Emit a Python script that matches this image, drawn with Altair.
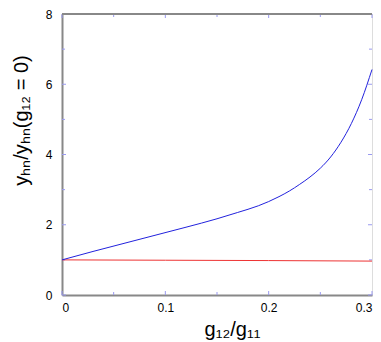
import altair as alt
import pandas as pd

# data
blue_x = [0, 0.03, 0.06, 0.09, 0.12, 0.15, 0.17, 0.18, 0.19, 0.2, 0.21, 0.22, 0.23, 0.24, 0.25, 0.26, 0.27, 0.28, 0.29, 0.3]
blue_y = [1.0, 1.24, 1.47, 1.70, 1.93, 2.17, 2.35, 2.44, 2.54, 2.66, 2.80, 2.96, 3.15, 3.36, 3.61, 3.93, 4.35, 4.88, 5.56, 6.42]
red_x = [0, 0.1, 0.2, 0.3]
red_y = [1.0, 0.99, 0.98, 0.965]

x_major = [0, 0.1, 0.2, 0.3]
x_minor = [0.05, 0.15, 0.25]
y_major = [0, 2, 4, 6, 8]
y_minor = [1, 3, 5, 7]

W, H = 310, 281
FONT = "Liberation Sans"
TICK = "#9a9af0"

blue = pd.DataFrame({"x": blue_x, "y": blue_y})
red = pd.DataFrame({"x": red_x, "y": red_y})

xs = alt.Scale(domain=[0, 0.3], nice=False)
ys = alt.Scale(domain=[0, 8], nice=False)

xax = alt.Axis(values=x_major, format="~g", ticks=False, labelPadding=7, labelFontSize=12,
               labelFont=FONT, labelColor="#000", domainColor="#888", domainWidth=2,
               grid=False, title="g₁₂/g₁₁", titleFont=FONT, titleFontSize=20,
               titleFontWeight="normal", titlePadding=6, titleX=170)
yax = alt.Axis(values=y_major, format="~g", ticks=False, labelPadding=10, labelFontSize=12,
               labelFont=FONT, labelColor="#000", domainColor="#888", domainWidth=2,
               grid=False, title="yₕₙ/yₕₙ(g₁₂ = 0)", titleFont=FONT, titleFontSize=20,
               titleFontWeight="normal", titlePadding=14, titleY=106)

line_b = alt.Chart(blue).mark_line(color="#2222dd", strokeWidth=1, interpolate="monotone").encode(
    x=alt.X("x:Q", scale=xs, axis=xax), y=alt.Y("y:Q", scale=ys, axis=yax))
line_r = alt.Chart(red).mark_line(color="#ee3333", strokeWidth=1).encode(
    x=alt.X("x:Q", scale=xs), y=alt.Y("y:Q", scale=ys))

def xticks(vals, length):
    df = pd.DataFrame({"x": vals})
    bot = alt.Chart(df).mark_rule(color=TICK, strokeWidth=1).encode(
        x=alt.X("x:Q", scale=xs), y=alt.value(H), y2=alt.value(H - length))
    top = alt.Chart(df).mark_rule(color=TICK, strokeWidth=1).encode(
        x=alt.X("x:Q", scale=xs), y=alt.value(0), y2=alt.value(length))
    return [bot, top]

def yticks(vals, length):
    df = pd.DataFrame({"y": vals})
    lef = alt.Chart(df).mark_rule(color=TICK, strokeWidth=1).encode(
        y=alt.Y("y:Q", scale=ys), x=alt.value(0), x2=alt.value(length))
    rig = alt.Chart(df).mark_rule(color=TICK, strokeWidth=1).encode(
        y=alt.Y("y:Q", scale=ys), x=alt.value(W), x2=alt.value(W - length))
    return [lef, rig]

top_line = alt.Chart(pd.DataFrame({"a": [0]})).mark_rule(color="#888", strokeWidth=2).encode(
    x=alt.value(0), x2=alt.value(W), y=alt.value(0))

layers = xticks(x_major, 4) + xticks(x_minor, 3) + yticks(y_major, 4) + yticks(y_minor, 3)
chart = alt.layer(*layers, top_line, line_r, line_b).properties(
    width=W, height=H, autosize=alt.AutoSizeParams(type="none"),
    padding={"left": 54, "top": 6, "right": 1, "bottom": 50},
).configure_view(stroke="#222", strokeWidth=1.5).configure(background="white")

chart.save("out.html", embed_options={"renderer": "svg", "actions": False})
